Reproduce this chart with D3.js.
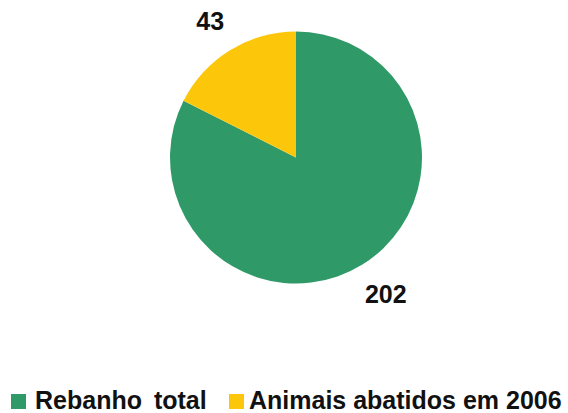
<!DOCTYPE html>
<html>
<head>
<meta charset="utf-8">
<script src="https://cdn.jsdelivr.net/npm/d3@7"></script>
<style>
  html, body { margin: 0; padding: 0; background: #ffffff; }
  svg { display: block; }
  text { font-family: "Liberation Sans", Arial, Helvetica, sans-serif; font-weight: bold; fill: #111; }
</style>
</head>
<body>
<svg id="chart" width="568" height="413"></svg>
<script>
// Rebanho vs. animais abatidos
const categories = ["Rebanho total", "Animais abatidos em 2006"];
const values = [202, 43];
const colors = ["#2f9a67", "#fcc70b"];

const width = 568, height = 413;
const cx = 296, cy = 157.5, radius = 126, labelRadius = 160;

const svg = d3.select("#chart");

const pie = d3.pie().sort(null).value(d => d.value);
const data = pie(categories.map((c, i) => ({ name: c, value: values[i], color: colors[i] })));

const arc = d3.arc().innerRadius(0).outerRadius(radius);
const labelArc = d3.arc().innerRadius(labelRadius).outerRadius(labelRadius);

const g = svg.append("g").attr("transform", `translate(${cx},${cy})`);

g.selectAll("path.slice")
  .data(data)
  .join("path")
  .attr("class", "slice")
  .attr("d", arc)
  .attr("fill", d => d.data.color);

// value labels sit just outside each slice, nudged slightly toward the vertical split
const labelShift = [6, -2];
g.selectAll("text.value")
  .data(data)
  .join("text")
  .attr("class", "value")
  .attr("transform", (d, i) => {
    const [x, y] = labelArc.centroid(d);
    return `translate(${x + labelShift[i]},${y})`;
  })
  .attr("text-anchor", "middle")
  .attr("dy", "0.36em")
  .style("font-size", "25px")
  .text(d => d.data.value);

// Legend along the bottom
const legendX = [11, 229];
const legendTextX = [24, 20];
const legend = svg.append("g").attr("class", "legend");
const items = legend.selectAll("g.item")
  .data(data)
  .join("g")
  .attr("class", "item")
  .attr("transform", (d, i) => `translate(${legendX[i]},394)`);

items.append("rect")
  .attr("width", 15)
  .attr("height", 15)
  .attr("fill", d => d.data.color);

items.append("text")
  .attr("x", (d, i) => legendTextX[i])
  .attr("y", 15)
  .style("font-size", "25px")
  .style("word-spacing", (d, i) => i === 0 ? "5px" : "0px")
  .text(d => d.data.name);
</script>
</body>
</html>
